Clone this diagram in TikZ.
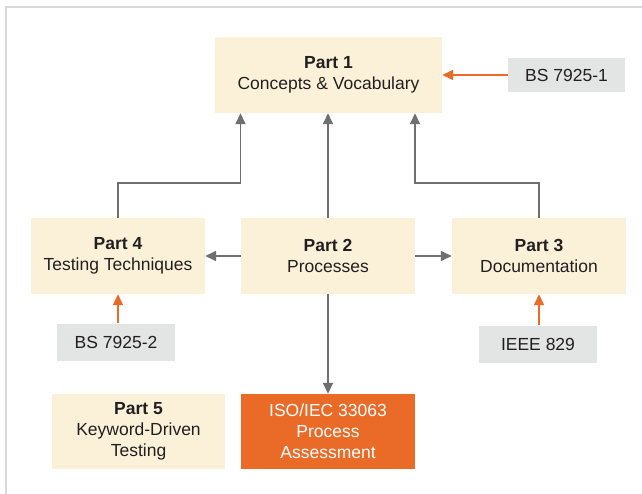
\documentclass[tikz,border=0pt]{standalone}
\usepackage{fontspec}
\setmainfont{Liberation Sans}
\usetikzlibrary{arrows.meta}
\definecolor{cream}{HTML}{FAF1D8}
\definecolor{stdgray}{HTML}{E3E4E4}
\definecolor{accent}{HTML}{EA6A28}
\definecolor{linegray}{HTML}{6F6F6F}
\definecolor{framegray}{HTML}{D9D9D9}
\definecolor{ink}{HTML}{231F20}
\tikzset{
  part/.style={fill=cream, text=ink, align=center, inner sep=0pt,
    minimum width=174pt, minimum height=76pt,
    font=\fontsize{17.5}{21}\selectfont},
  stdbox/.style={fill=stdgray, text=ink, align=center, inner sep=0pt,
    minimum width=118pt, minimum height=37pt,
    font=\fontsize{17.5}{21}\selectfont},
  assess/.style={fill=accent, text=white, align=center, inner sep=0pt,
    minimum width=174pt, minimum height=75pt,
    font=\fontsize{17.5}{21}\selectfont},
  flow/.style={draw=linegray, line width=1.5pt,
    -{Triangle[width=10pt,length=11pt]}, color=linegray},
  feed/.style={draw=accent, line width=1.5pt,
    -{Triangle[width=10pt,length=11pt]}, color=accent}
}
\begin{document}
\begin{tikzpicture}[x=1pt, y=-1pt]
  \useasboundingbox (0,0) rectangle (642,494);
  % page frame
  \draw[framegray, line width=2pt] (6,494) -- (6,7) -- (642,7);

  % parts of the standard
  \node[part, minimum width=227pt] (p1) at (328.5,75) {\textbf{Part 1}\\Concepts \& Vocabulary};
  \node[part] (p4) at (118,256) {\textbf{Part 4}\\Testing Techniques};
  \node[part] (p2) at (328,256) {\textbf{Part 2}\\Processes};
  \node[part] (p3) at (539,256) {\textbf{Part 3}\\Documentation};
  \node[part, minimum height=75pt, minimum width=173pt] (p5) at (138.5,431.5) {\textbf{Part 5}\\Keyword-Driven\\Testing};
  \node[assess] (iso) at (328,431.5) {ISO/IEC 33063\\Process\\Assessment};

  % source standards
  \node[stdbox, minimum height=34pt, minimum width=117pt] (bs1) at (566.5,75) {BS 7925-1};
  \node[stdbox] (bs2) at (116,342) {BS 7925-2};
  \node[stdbox] (ieee) at (538,344) {IEEE 829};

  % bend level between the middle row and Part 1
  \coordinate (bend) at (0,183);

  % references to Part 1
  \draw[flow] (p2.north) -- (p2.north |- p1.south);
  \draw[flow] (p4.north) -- (p4.north |- bend) -| ([xshift=-88pt]p1.south);
  \draw[flow] (p3.north) -- (p3.north |- bend) -| ([xshift=86.5pt]p1.south);

  % Part 2 to its neighbours
  \draw[flow] (p2.west) -- (p4.east);
  \draw[flow] (p2.east) -- (p3.west);
  \draw[flow] (p2.south) -- (iso.north);

  % inputs from earlier standards
  \draw[feed] (bs1.west) -- (bs1.west -| p1.east);
  \draw[feed] (bs2.north -| p4.south) -- (p4.south);
  \draw[feed] (ieee.north -| p3.south) -- (p3.south);
\end{tikzpicture}
\end{document}
